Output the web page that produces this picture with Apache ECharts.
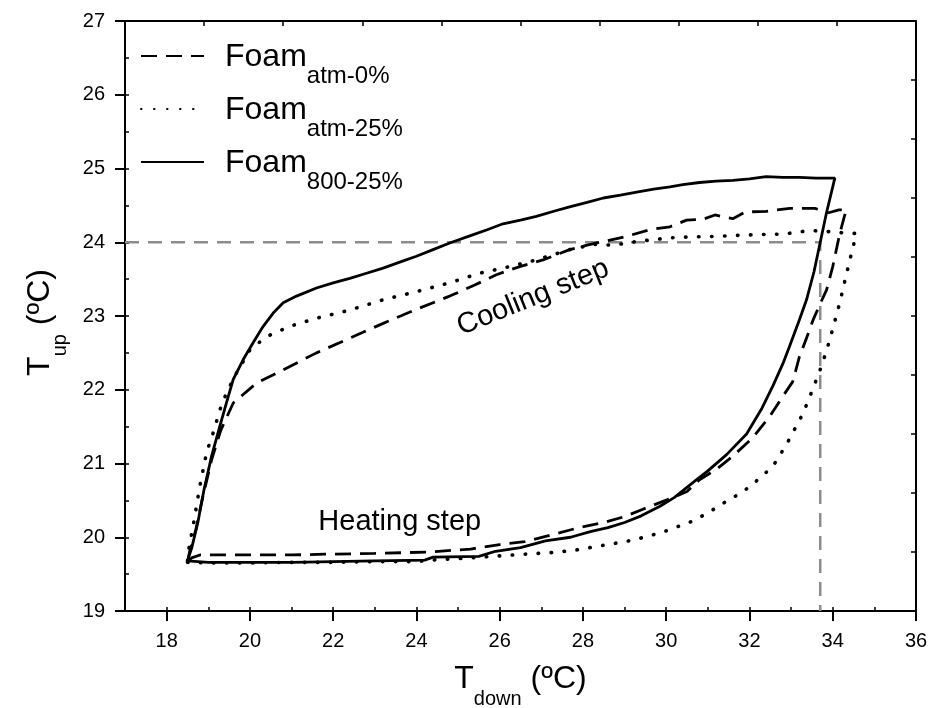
<!DOCTYPE html>
<html>
<head>
<meta charset="utf-8">
<script src="https://cdn.jsdelivr.net/npm/echarts@6/dist/echarts.min.js"></script>
<style>
    html, body { margin: 0; padding: 0; background: #fff; }
    #chart { width: 932px; height: 708px; }
</style>
</head>
<body>
<div id="chart"></div>
<script>
// Foam atm-0% (dashed): heating branch (bottom) then cooling branch (top)
const atm0T = [18.5, 18.6, 18.8, 20.0, 21.0, 21.8, 23.0, 24.3, 25.3, 26.0, 26.6, 27.3, 27.9, 28.5, 29.0, 29.44, 30.08, 30.5, 30.8, 31.2, 31.6, 32.08, 32.49, 32.8, 33.04, 33.2, 33.37, 33.53, 33.71, 33.85, 34.0, 34.17, 34.28, 34.33,
    34.15, 33.9, 33.57, 32.97, 32.4, 31.9, 31.6, 31.17, 30.88, 30.49, 30.09, 29.6, 29.05, 28.49, 28.1, 27.68, 27.04, 26.48, 25.92, 25.4, 24.8, 24.0, 23.2, 22.4, 21.6, 20.8, 20.16, 19.6, 19.3, 19.08, 18.85, 18.7, 18.55, 18.5];
const atm0U = [19.66, 19.72, 19.76, 19.76, 19.76, 19.77, 19.78, 19.8, 19.84, 19.9, 19.94, 20.04, 20.13, 20.2, 20.28, 20.38, 20.52, 20.62, 20.78, 20.92, 21.1, 21.35, 21.64, 21.91, 22.11, 22.45, 22.7, 22.95, 23.18, 23.35, 23.67, 24.12, 24.35, 24.44,
    24.44, 24.4, 24.46, 24.46, 24.42, 24.41, 24.32, 24.37, 24.31, 24.3, 24.21, 24.17, 24.08, 24.01, 23.96, 23.9, 23.76, 23.67, 23.56, 23.42, 23.27, 23.09, 22.9, 22.7, 22.5, 22.27, 22.09, 21.82, 21.45, 21.05, 20.5, 20.1, 19.8, 19.66];

// Foam atm-25% (dotted)
const atm25T = [18.5, 19.0, 20.0, 21.0, 22.0, 23.0, 24.0, 24.34, 25.0, 25.8, 26.6, 27.2, 27.76, 28.48, 29.2, 29.92, 30.64, 31.0, 31.45, 31.8, 32.08, 32.56, 32.89, 33.28, 33.55, 33.75, 33.93, 34.17, 34.3, 34.45, 34.57,
    34.4, 34.0, 33.45, 32.8, 32.0, 31.2, 30.5, 30.09, 29.29, 28.73, 28.25, 27.68, 26.88, 26.24, 25.52, 24.8, 24.0, 23.2, 22.4, 21.6, 20.96, 20.4, 20.0, 19.68, 19.44, 19.28, 19.12, 18.96, 18.8, 18.65, 18.52, 18.5];
const atm25U = [19.66, 19.65, 19.65, 19.66, 19.66, 19.67, 19.67, 19.69, 19.71, 19.74, 19.77, 19.79, 19.82, 19.89, 19.96, 20.07, 20.22, 20.33, 20.49, 20.6, 20.72, 20.96, 21.26, 21.67, 22.05, 22.35, 22.68, 23.18, 23.5, 23.85, 24.12,
    24.12, 24.14, 24.16, 24.11, 24.1, 24.08, 24.07, 24.06, 24.01, 23.96, 23.97, 23.9, 23.76, 23.67, 23.58, 23.45, 23.33, 23.22, 23.08, 22.97, 22.86, 22.72, 22.54, 22.23, 21.96, 21.73, 21.42, 21.15, 20.7, 20.2, 19.8, 19.66];

// Foam 800-25% (solid)
const p800T = [18.5, 19.0, 20.0, 21.0, 22.0, 23.0, 24.2, 24.4, 25.5, 25.9, 26.5, 27.1, 27.7, 28.2, 28.6, 29.0, 29.4, 29.85, 30.2, 30.64, 31.0, 31.45, 31.93, 32.3, 32.56, 32.8, 32.97, 33.2, 33.37, 33.55, 33.7, 33.85, 34.0, 34.05,
    33.6, 33.2, 32.8, 32.4, 32.0, 31.6, 31.2, 30.8, 30.4, 30.09, 29.7, 29.29, 28.9, 28.49, 28.1, 27.68, 27.3, 26.88, 26.5, 26.08, 25.7, 25.35, 24.8, 24.4, 24.0, 23.6, 23.2, 22.8, 22.4, 22.0, 21.6, 21.12, 20.8, 20.56, 20.32, 20.08, 19.84, 19.6, 19.44, 19.28, 19.08, 18.9, 18.75, 18.6, 18.5];
const p800U = [19.68, 19.66, 19.66, 19.66, 19.67, 19.68, 19.69, 19.73, 19.74, 19.81, 19.86, 19.95, 20.0, 20.08, 20.13, 20.2, 20.29, 20.42, 20.54, 20.74, 20.9, 21.12, 21.4, 21.75, 22.05, 22.35, 22.6, 22.95, 23.22, 23.6, 24.0, 24.4, 24.75, 24.87,
    24.87, 24.88, 24.88, 24.89, 24.86, 24.84, 24.83, 24.81, 24.78, 24.75, 24.72, 24.68, 24.64, 24.6, 24.54, 24.48, 24.42, 24.35, 24.3, 24.25, 24.17, 24.1, 23.99, 23.9, 23.81, 23.73, 23.65, 23.58, 23.51, 23.45, 23.38, 23.27, 23.18, 23.04, 22.86, 22.64, 22.41, 22.14, 21.83, 21.51, 21.1, 20.65, 20.2, 19.85, 19.68];

// grey guide: T_up = 24 ºC reached at T_down = 33.7 ºC
const guideT = [17, 33.7, 33.7];
const guideU = [24, 24, 19];

const xTicks = [18, 20, 22, 24, 26, 28, 30, 32, 34, 36];
const annotations = [
    { text: 'Heating step', t: 23.6, u: 20.21, angle: 0 },
    { text: 'Cooling step', t: 26.8, u: 23.25, angle: 22 }
];

const FONT = "'Liberation Sans', Arial, sans-serif";

function pairs(xs, ys) {
    return xs.map((x, i) => [x, ys[i]]);
}

const chart = echarts.init(document.getElementById('chart'), null, { renderer: 'canvas' });

const plainAxisLine = { onZero: false, lineStyle: { color: '#000', width: 2 } };
const titleRich = {
    t: { fontSize: 32, lineHeight: 36, verticalAlign: 'top', fontFamily: FONT },
    s: { fontSize: 20, lineHeight: 22, verticalAlign: 'top', padding: [26, 0, 0, 0], fontFamily: FONT }
};

chart.setOption({
    animation: false,
    backgroundColor: '#fff',
    textStyle: { fontFamily: FONT, color: '#000' },
    grid: { left: 125, right: 16, top: 21, bottom: 97, outerBoundsMode: 'none', containLabel: false },
    legend: {
        data: ['atm-0%', { name: 'atm-25%', lineStyle: { cap: 'round' } }, '800-25%'],
        orient: 'vertical',
        left: 140,
        top: 38,
        padding: 0,
        itemGap: 3,
        itemWidth: 63,
        itemHeight: 14,
        selectedMode: false,
        itemStyle: { opacity: 0 },
        formatter: name => '{a|Foam}{b|' + name + '}',
        textStyle: {
            color: '#000',
            fontFamily: FONT,
            rich: {
                a: { fontSize: 32, lineHeight: 36, verticalAlign: 'top', padding: [3, 0, 0, 16], fontFamily: FONT },
                b: { fontSize: 24, lineHeight: 24, verticalAlign: 'top', padding: [26, 0, 0, 0], fontFamily: FONT }
            }
        }
    },
    xAxis: [
        {
            type: 'value', min: 17, max: 36, interval: 2, position: 'bottom',
            axisLine: plainAxisLine,
            axisTick: { length: 10, customValues: xTicks, lineStyle: { color: '#000', width: 2 } },
            axisLabel: { customValues: xTicks, fontSize: 20, color: '#000', margin: 20, fontFamily: FONT },
            splitLine: { show: false },
            name: '{t|T}{s|down}{t| (ºC)}',
            nameLocation: 'middle',
            nameGap: 52,
            nameTextStyle: { color: '#000', rich: titleRich }
        },
        {
            // top border with its own 10-division ticks
            type: 'value', min: 0, max: 10, interval: 1, position: 'top',
            axisLine: plainAxisLine,
            axisTick: { inside: true, length: 5, lineStyle: { color: '#000', width: 1.5 } },
            axisLabel: { show: false },
            splitLine: { show: false }
        },
        {
            // minor ticks of the bottom axis
            type: 'value', min: 17, max: 36, interval: 1, position: 'bottom',
            axisLine: { show: false },
            axisTick: { inside: true, length: 4, lineStyle: { color: '#000', width: 1.5 } },
            axisLabel: { show: false },
            splitLine: { show: false }
        }
    ],
    yAxis: [
        {
            type: 'value', min: 19, max: 27, interval: 1, position: 'left',
            axisLine: plainAxisLine,
            axisTick: { length: 10, lineStyle: { color: '#000', width: 2 } },
            axisLabel: { fontSize: 20, color: '#000', margin: 20, fontFamily: FONT },
            splitLine: { show: false },
            name: '{t|T}{s|up}{t| (ºC)}',
            nameLocation: 'middle',
            nameGap: 65,
            nameTextStyle: { color: '#000', padding: [0, 13, 0, 0], rich: titleRich }
        },
        {
            type: 'value', min: 0, max: 10, interval: 1, position: 'right',
            axisLine: plainAxisLine,
            axisTick: { inside: true, length: 5, lineStyle: { color: '#000', width: 1.5 } },
            axisLabel: { show: false },
            splitLine: { show: false }
        },
        {
            type: 'value', min: 19, max: 27, interval: 0.5, position: 'left',
            axisLine: { show: false },
            axisTick: { inside: true, length: 4, lineStyle: { color: '#000', width: 1.5 } },
            axisLabel: { show: false },
            splitLine: { show: false }
        }
    ],
    series: [
        {
            name: 'guide', type: 'line', data: pairs(guideT, guideU), symbol: 'none', silent: true, z: 1,
            lineStyle: { color: '#8c8c8c', width: 2.5, type: [14, 9] }
        },
        {
            name: 'atm-0%', type: 'line', data: pairs(atm0T, atm0U), symbol: 'none', silent: true, z: 3,
            itemStyle: { color: '#000' },
            lineStyle: { color: '#000', width: 2.8, type: [16, 9] }
        },
        {
            name: 'atm-25%', type: 'line', data: pairs(atm25T, atm25U), symbol: 'none', silent: true, z: 3,
            itemStyle: { color: '#000' },
            lineStyle: { color: '#000', width: 3.6, type: [0.5, 12.5], cap: 'round' }
        },
        {
            name: '800-25%', type: 'line', data: pairs(p800T, p800U), symbol: 'none', silent: true, z: 4,
            itemStyle: { color: '#000' },
            lineStyle: { color: '#000', width: 2.8 }
        },
        {
            name: 'notes', type: 'scatter', symbolSize: 0, silent: true, z: 5,
            itemStyle: { opacity: 1 },
            data: annotations.map(a => ({ value: [a.t, a.u], label: { formatter: a.text, rotate: a.angle } })),
            label: { show: true, position: [0, 0], align: 'center', verticalAlign: 'middle', fontSize: 29, color: '#000', fontFamily: FONT }
        }
    ]
});
</script>
</body>
</html>
